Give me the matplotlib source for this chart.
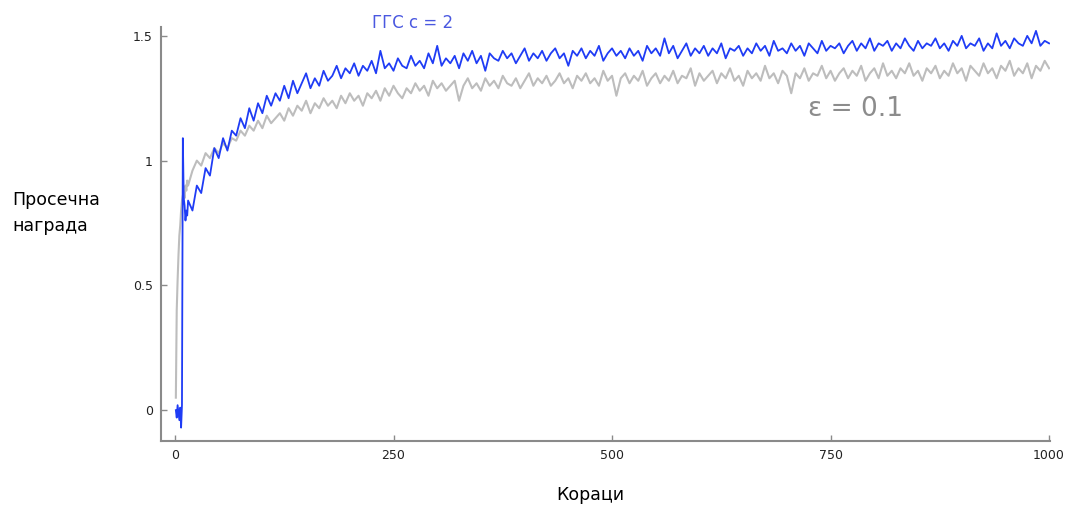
import matplotlib
matplotlib.use("Agg")
import matplotlib.pyplot as plt
import numpy as np

# ---- data (every 5th step after step 15) ----
early_steps = list(range(1, 16))
ucb_early = [0.00, -0.03, 0.02, -0.01, -0.04, 0.01, -0.07, 0.02, 1.09,
             0.85, 0.82, 0.76, 0.80, 0.78, 0.84]
eps_early = [0.05, 0.40, 0.52, 0.62, 0.70, 0.74, 0.80, 0.84, 0.86,
             0.87, 0.85, 0.90, 0.88, 0.92, 0.90]

late_steps = list(range(20, 1001, 5))
ucb_late = [
    0.80, 0.90, 0.87, 0.97, 0.94, 1.05, 1.01, 1.09, 1.04, 1.12,
    1.10, 1.17, 1.13, 1.21, 1.16, 1.23, 1.19, 1.26, 1.22, 1.27,
    1.24, 1.30, 1.25, 1.32, 1.27, 1.31, 1.35, 1.29, 1.33, 1.30,
    1.36, 1.32, 1.34, 1.38, 1.33, 1.37, 1.35, 1.39, 1.34, 1.38,
    1.36, 1.40, 1.35, 1.44, 1.37, 1.39, 1.36, 1.41, 1.38, 1.37,
    1.42, 1.38, 1.40, 1.37, 1.43, 1.39, 1.46, 1.38, 1.41, 1.39,
    1.42, 1.37, 1.43, 1.40, 1.44, 1.39, 1.42, 1.36, 1.43, 1.41,
    1.40, 1.44, 1.41, 1.43, 1.39, 1.42, 1.45, 1.40, 1.43, 1.41,
    1.44, 1.40, 1.43, 1.45, 1.41, 1.43, 1.38, 1.44, 1.42, 1.45,
    1.41, 1.44, 1.42, 1.46, 1.40, 1.43, 1.45, 1.42, 1.44, 1.41,
    1.45, 1.42, 1.44, 1.40, 1.46, 1.43, 1.45, 1.42, 1.49, 1.43,
    1.46, 1.41, 1.44, 1.47, 1.42, 1.45, 1.43, 1.46, 1.42, 1.45,
    1.43, 1.47, 1.41, 1.45, 1.44, 1.46, 1.42, 1.45, 1.43, 1.47,
    1.44, 1.46, 1.42, 1.48, 1.44, 1.45, 1.43, 1.47, 1.44, 1.46,
    1.42, 1.47, 1.45, 1.43, 1.48, 1.44, 1.46, 1.45, 1.47, 1.43,
    1.46, 1.48, 1.44, 1.47, 1.45, 1.49, 1.44, 1.47, 1.46, 1.48,
    1.44, 1.47, 1.45, 1.49, 1.46, 1.44, 1.48, 1.45, 1.47, 1.46,
    1.49, 1.45, 1.47, 1.44, 1.48, 1.46, 1.50, 1.45, 1.47, 1.46,
    1.49, 1.44, 1.47, 1.45, 1.51, 1.46, 1.48, 1.45, 1.49, 1.47,
    1.46, 1.50, 1.47, 1.52, 1.46, 1.48, 1.47,
]
eps_late = [
    0.96, 1.00, 0.98, 1.03, 1.01, 1.05, 1.03, 1.07, 1.05, 1.09,
    1.08, 1.12, 1.10, 1.14, 1.12, 1.16, 1.13, 1.18, 1.15, 1.17,
    1.19, 1.16, 1.21, 1.18, 1.22, 1.20, 1.24, 1.19, 1.23, 1.21,
    1.25, 1.22, 1.24, 1.21, 1.26, 1.23, 1.27, 1.24, 1.26, 1.22,
    1.27, 1.25, 1.28, 1.24, 1.29, 1.26, 1.30, 1.27, 1.25, 1.29,
    1.27, 1.31, 1.28, 1.30, 1.26, 1.32, 1.29, 1.31, 1.28, 1.30,
    1.32, 1.24, 1.30, 1.33, 1.29, 1.31, 1.28, 1.33, 1.30, 1.32,
    1.29, 1.34, 1.31, 1.30, 1.33, 1.29, 1.32, 1.35, 1.30, 1.33,
    1.31, 1.34, 1.30, 1.32, 1.35, 1.31, 1.33, 1.29, 1.34, 1.32,
    1.35, 1.31, 1.33, 1.30, 1.36, 1.32, 1.34, 1.26, 1.33, 1.35,
    1.31, 1.34, 1.32, 1.36, 1.30, 1.33, 1.35, 1.31, 1.34, 1.32,
    1.36, 1.31, 1.34, 1.33, 1.37, 1.30, 1.35, 1.32, 1.34, 1.36,
    1.31, 1.35, 1.33, 1.37, 1.32, 1.34, 1.30, 1.36, 1.33, 1.35,
    1.32, 1.38, 1.33, 1.35, 1.31, 1.36, 1.34, 1.27, 1.35, 1.33,
    1.37, 1.32, 1.35, 1.34, 1.38, 1.33, 1.36, 1.32, 1.35, 1.37,
    1.33, 1.36, 1.34, 1.38, 1.32, 1.35, 1.37, 1.33, 1.39, 1.34,
    1.36, 1.33, 1.37, 1.35, 1.39, 1.34, 1.36, 1.32, 1.37, 1.35,
    1.38, 1.33, 1.36, 1.34, 1.39, 1.35, 1.37, 1.32, 1.38, 1.36,
    1.34, 1.39, 1.35, 1.37, 1.33, 1.38, 1.36, 1.40, 1.34, 1.37,
    1.35, 1.39, 1.33, 1.38, 1.36, 1.40, 1.37,
]

steps = early_steps + late_steps
ucb = ucb_early + ucb_late
eps = eps_early + eps_late

xticks = [0, 250, 500, 750, 1000]
yticks = [0, 0.5, 1, 1.5]
ytick_labels = ["0", "0.5", "1", "1.5"]

fig = plt.figure(figsize=(10.69, 5.07), dpi=100)
ax = fig.add_axes([0.1506, 0.130, 0.8316, 0.817])

ax.plot(steps, eps, color="#bdbdbd", lw=1.5)
ax.plot(steps, ucb, color="#1f3cf5", lw=1.3)

ax.set_xlim(-16, 1001)
ax.set_ylim(-0.124, 1.536)
ax.set_xticks(xticks)
ax.set_yticks(yticks)
ax.set_yticklabels(ytick_labels)
for s in ["top", "right"]:
    ax.spines[s].set_visible(False)
for s in ["left", "bottom"]:
    ax.spines[s].set_color("#8a8a8a")
    ax.spines[s].set_linewidth(1.5)
ax.tick_params(direction="in", length=4, width=1, color="#8a8a8a",
               labelsize=9, labelcolor="#222222", pad=6)

ax.text(272, 1.552, "ГГС c = 2", color="#4a58e0", fontsize=12,
        ha="center", va="center", clip_on=False, family="DejaVu Sans")
ax.text(779, 1.208, "ε = 0.1", color="#8c8c8c", fontsize=19,
        ha="center", va="center", family="DejaVu Sans")

fig.text(12 / 1069, 0.58, "Просечна\nнаграда", fontsize=12.5,
         ha="left", va="center", linespacing=1.6, family="DejaVu Sans")
fig.text(590 / 1069, 0.024, "Кораци", fontsize=12.5, ha="center",
         va="center", family="DejaVu Sans")

fig.savefig("out.png", dpi=100)
